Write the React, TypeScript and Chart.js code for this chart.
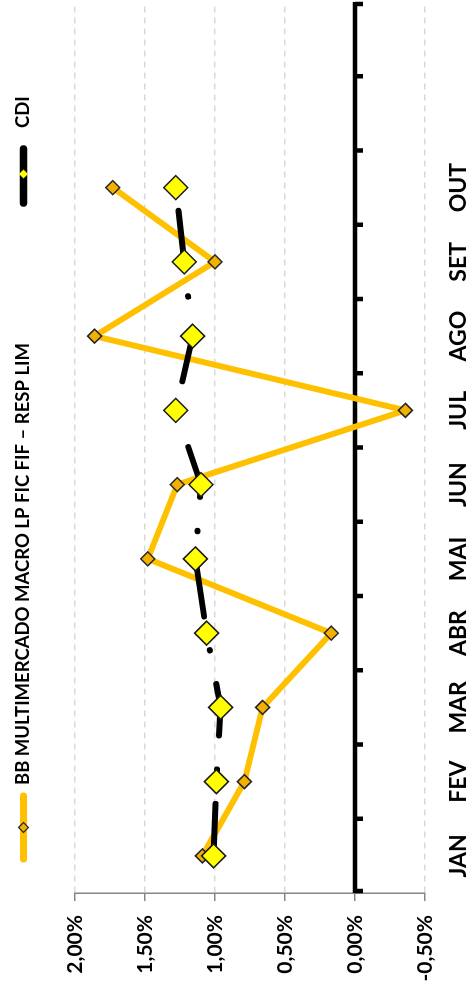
import React, { useEffect, useRef } from "react";
import { Chart, registerables } from "chart.js";

Chart.register(...registerables);

const CATEGORIES = ["JAN", "FEV", "MAR", "ABR", "MAI", "JUN", "JUL", "AGO", "SET", "OUT", "", ""];
const SERIES_BB_NAME = "BB MULTIMERCADO MACRO LP FIC FIF – RESP LIM";
const SERIES_CDI_NAME = "CDI";
const BB_VALUES = [1.09, 0.79, 0.66, 0.17, 1.48, 1.27, -0.36, 1.86, 1.0, 1.73];
const CDI_VALUES = [1.01, 0.99, 0.96, 1.06, 1.14, 1.1, 1.28, 1.16, 1.22, 1.28];
const VALUE_MIN = -0.5;
const VALUE_MAX = 2.0;
const VALUE_STEP = 0.5;

const BB_COLOR = "#FFC000";
const BB_MARKER = "#F2B000";
const CDI_MARKER = "#FFFF00";
const FONT = "Lato";

function diamond(ctx: CanvasRenderingContext2D, x: number, y: number, r: number, fill: string, stroke: string, lw: number) {
  ctx.beginPath();
  ctx.moveTo(x, y - r);
  ctx.lineTo(x + r, y);
  ctx.lineTo(x, y + r);
  ctx.lineTo(x - r, y);
  ctx.closePath();
  ctx.fillStyle = fill;
  ctx.fill();
  if (lw > 0) {
    ctx.lineWidth = lw;
    ctx.strokeStyle = stroke;
    ctx.stroke();
  }
}

const zeroAxisPlugin = {
  id: "zeroAxis",
  beforeDatasetsDraw(chart: any) {
    const { ctx, chartArea, scales } = chart;
    const y0 = scales.y.getPixelForValue(0);
    const n = CATEGORIES.length;
    const w = (chartArea.right - chartArea.left) / n;
    ctx.save();
    ctx.strokeStyle = "#000";
    ctx.lineWidth = 4.5;
    ctx.lineCap = "butt";
    ctx.beginPath();
    ctx.moveTo(chartArea.left, y0);
    ctx.lineTo(chartArea.right, y0);
    ctx.stroke();
    for (let i = 0; i <= n; i++) {
      const x = Math.min(Math.max(chartArea.left + i * w, chartArea.left + 2), chartArea.right - 2);
      ctx.beginPath();
      ctx.moveTo(x, y0);
      ctx.lineTo(x, y0 + 8);
      ctx.stroke();
    }
    ctx.restore();
  },
};

const legendPlugin = {
  id: "customLegend",
  afterDraw(chart: any) {
    const ctx = chart.ctx as CanvasRenderingContext2D;
    const y = 23.5;
    ctx.save();
    ctx.lineCap = "round";
    // BB item
    ctx.strokeStyle = BB_COLOR;
    ctx.lineWidth = 7;
    ctx.beginPath();
    ctx.moveTo(130, y);
    ctx.lineTo(193, y);
    ctx.stroke();
    diamond(ctx, 161.5, y, 5, BB_MARKER, "#262626", 1.2);
    ctx.font = `bold 18.5px ${FONT}`;
    ctx.fillStyle = "#000";
    ctx.textBaseline = "middle";
    ctx.textAlign = "left";
    ctx.fillText(SERIES_BB_NAME, 204, y);
    // CDI item
    ctx.strokeStyle = "#000";
    ctx.lineWidth = 7.5;
    ctx.beginPath();
    ctx.moveTo(786, y);
    ctx.lineTo(840, y);
    ctx.stroke();
    diamond(ctx, 815, y, 4.5, CDI_MARKER, "#000", 0);
    ctx.fillStyle = "#000";
    ctx.fillText(SERIES_CDI_NAME, 861, y);
    ctx.restore();
  },
};

export default function App() {
  const canvasRef = useRef<HTMLCanvasElement | null>(null);

  useEffect(() => {
    const canvas = canvasRef.current;
    if (!canvas) return;
    const chart = new Chart(canvas, {
      type: "line",
      data: {
        labels: CATEGORIES,
        datasets: [
          {
            label: SERIES_CDI_NAME,
            data: CDI_VALUES,
            borderColor: "#000",
            borderWidth: 6,
            borderDash: [52, 34, 0.5, 34],
            borderCapStyle: "round",
            borderJoinStyle: "round",
            tension: 0,
            pointStyle: "rectRot",
            pointRadius: 12,
            pointHoverRadius: 12,
            pointBackgroundColor: CDI_MARKER,
            pointBorderColor: "#1a1a1a",
            pointBorderWidth: 1.5,
            order: 0,
          },
          {
            label: SERIES_BB_NAME,
            data: BB_VALUES,
            borderColor: BB_COLOR,
            borderWidth: 6,
            borderCapStyle: "round",
            borderJoinStyle: "round",
            tension: 0,
            pointStyle: "rectRot",
            pointRadius: 7,
            pointHoverRadius: 7,
            pointBackgroundColor: BB_MARKER,
            pointBorderColor: "#262626",
            pointBorderWidth: 1.5,
            order: 1,
          },
        ],
      },
      options: {
        responsive: false,
        animation: false,
        devicePixelRatio: 1,
        layout: { autoPadding: false, padding: { top: 75, right: 2, left: 0, bottom: 0 } },
        plugins: {
          legend: { display: false },
          tooltip: { enabled: false },
        },
        scales: {
          x: {
            type: "category",
            offset: true,
            grid: {
              display: true,
              drawOnChartArea: false,
              drawTicks: true,
              tickLength: 20,
              tickColor: "rgba(0,0,0,0)",
              color: "rgba(0,0,0,0)",
            },
            border: { display: false },
            ticks: {
              autoSkip: false,
              maxRotation: 0,
              minRotation: 0,
              padding: 0,
              color: "#000",
              font: { family: FONT, weight: "bold", size: 23 },
            },
            afterFit: (scale: any) => {
              scale.height = 46;
            },
          },
          y: {
            min: VALUE_MIN,
            max: VALUE_MAX,
            ticks: {
              stepSize: VALUE_STEP,
              padding: 14,
              color: "#000",
              font: { family: FONT, weight: "bold", size: 21 },
              callback: (v: any) => Number(v).toFixed(2).replace(".", ",") + "%",
            },
            grid: {
              color: (c: any) => (c.tick && Math.abs(c.tick.value) < 1e-9 ? "rgba(0,0,0,0)" : "#D9D9D9"),
              lineWidth: 1.5,
              drawTicks: true,
              tickLength: 8,
              tickColor: "#868686",
              tickWidth: 1.5,
            },
            border: { display: true, color: "#868686", width: 1.5, dash: [6, 5] },
            afterFit: (scale: any) => {
              scale.width = 96;
            },
          },
        },
      },
      plugins: [zeroAxisPlugin, legendPlugin],
    } as any);
    return () => chart.destroy();
  }, []);

  return (
    <div style={{ position: "fixed", left: 0, top: 0, width: 471, height: 989, overflow: "hidden", background: "#fff" }}>
      <div
        style={{
          position: "absolute",
          left: 0,
          top: 0,
          width: 989,
          height: 471,
          transformOrigin: "0 0",
          transform: "translate(0px, 989px) rotate(-90deg)",
        }}
      >
        <canvas ref={canvasRef} width={989} height={471} style={{ display: "block", width: 989, height: 471 }} />
      </div>
    </div>
  );
}
